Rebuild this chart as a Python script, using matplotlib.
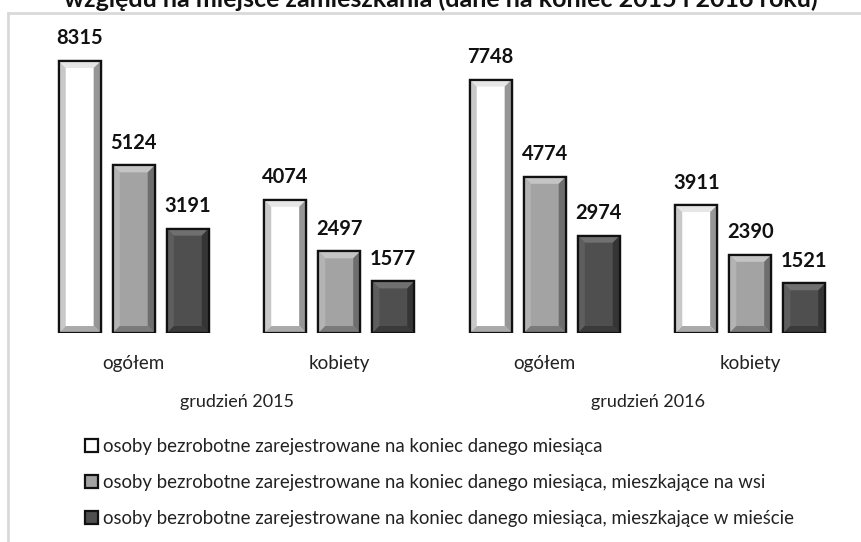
import matplotlib.pyplot as plt
import numpy as np
from matplotlib.patches import Polygon

plt.rcParams['font.family'] = ['Lato', 'DejaVu Sans']

title = "względu na miejsce zamieszkania (dane na koniec 2015 i 2016 roku)"
categories = ["ogółem", "kobiety", "ogółem", "kobiety"]
groups = ["grudzień 2015", "grudzień 2016"]
series_names = [
    "osoby bezrobotne zarejestrowane na koniec danego miesiąca",
    "osoby bezrobotne zarejestrowane na koniec danego miesiąca, mieszkające na wsi",
    "osoby bezrobotne zarejestrowane na koniec danego miesiąca, mieszkające w mieście",
]
total = [8315, 4074, 7748, 3911]
village = [5124, 2497, 4774, 2390]
town = [3191, 1577, 2974, 1521]

# face, top, left, right, bottom colours of the bevelled bars
styles = [
    ("#ffffff", "#e6e6e6", "#c8c8c8", "#969696", "#aaaaaa"),
    ("#a3a3a3", "#c4c4c4", "#b3b3b3", "#6e6e6e", "#7a7a7a"),
    ("#4f4f4f", "#707070", "#5e5e5e", "#353535", "#3a3a3a"),
]

W, H = 861, 542
fig = plt.figure(figsize=(W / 100, H / 100), dpi=100)
ax = fig.add_axes([31 / W, (H - 333) / H, 822 / W, 293 / H])
ax.set_xlim(-0.5, 3.5)
ax.set_ylim(0, 8315 * 293 / 272)
for s in ax.spines.values():
    s.set_visible(False)
ax.set_yticks([])

x = np.arange(len(categories))
step = 0.263
width = 0.204
bevel_px = 7
sx = bevel_px * 4.0 / 822
sy = bevel_px * ax.get_ylim()[1] / 293

for i, (vals, st, name) in enumerate(zip([total, village, town], styles, series_names)):
    bars = ax.bar(x + (i - 1) * step, vals, width, color=st[0], edgecolor="#111111",
                  linewidth=1.6, label=name, zorder=2)
    for b in bars:
        x0, y0 = b.get_x(), b.get_y()
        x1, y1 = x0 + b.get_width(), y0 + b.get_height()
        polys = [
            ([(x0, y1), (x1, y1), (x1 - sx, y1 - sy), (x0 + sx, y1 - sy)], st[1]),
            ([(x0, y0), (x0 + sx, y0 + sy), (x0 + sx, y1 - sy), (x0, y1)], st[2]),
            ([(x1, y0), (x1 - sx, y0 + sy), (x1 - sx, y1 - sy), (x1, y1)], st[3]),
            ([(x0, y0), (x1, y0), (x1 - sx, y0 + sy), (x0 + sx, y0 + sy)], st[4]),
        ]
        for pts, c in polys:
            ax.add_patch(Polygon(pts, closed=True, facecolor=c, edgecolor="none", zorder=2.5))
        ax.add_patch(plt.Rectangle((x0, y0), x1 - x0, y1 - y0, fill=False,
                                   edgecolor="#111111", linewidth=1.6, zorder=3))
        ax.annotate(f"{int(b.get_height())}", (b.get_x() + b.get_width() / 2, y1),
                    xytext=(0, 9), textcoords="offset points", ha="center", va="bottom",
                    fontsize=14.5, fontweight="bold", color="#111111")

ax.set_xticks(x, categories)
ax.tick_params(axis="x", length=0, pad=16, labelsize=13.5, colors="#222222")

for g, name in enumerate(groups):
    ax.text(2 * g + 0.5, -69 / 293, name, transform=ax.get_xaxis_transform(),
            ha="center", va="center", fontsize=13, color="#222222")

handles, labels = ax.get_legend_handles_labels()
fig.legend(handles, labels, loc="upper left", bbox_to_anchor=(68 / W, 1 - 421 / H),
           frameon=False, fontsize=13.4, labelspacing=1.02, handlelength=0.7,
           handleheight=0.7, handletextpad=0.3, labelcolor="#222222")

# frame of the chart area
fig.add_artist(plt.Line2D([8 / W, 8 / W], [0, 1 - 13 / H], color="#d9d9d9", lw=2))
fig.add_artist(plt.Line2D([8 / W, 1], [1 - 13 / H, 1 - 13 / H], color="#d9d9d9", lw=2))

fig.text(441 / W, 1 - 7 / H, title, ha="center", va="baseline", fontsize=18,
         fontweight="bold", color="#111111")

fig.savefig("out.png", dpi=100)
